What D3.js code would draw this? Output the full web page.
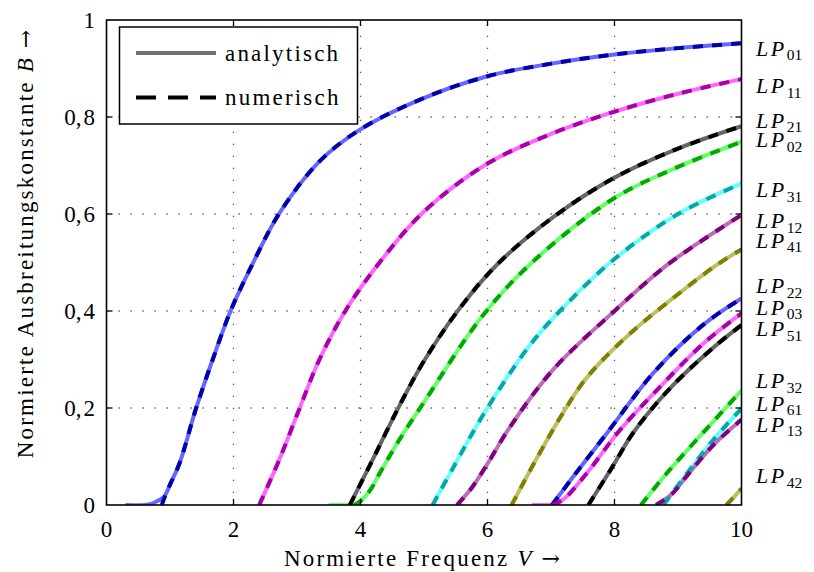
<!DOCTYPE html>
<html>
<head>
<meta charset="utf-8">
<script src="https://cdn.jsdelivr.net/npm/d3@7"></script>
<style>
  body { margin: 0; background: #fff; }
  svg { display: block; font-family: "Liberation Serif", serif; }
  .word { letter-spacing: 2.2px; }
  .arrow { font-family: "DejaVu Serif", serif; letter-spacing: 0; }
</style>
</head>
<body>
<svg width="814" height="572"></svg>
<script>
// mode names, in the order they were plotted (sets the colour cycle)
var modes = ["01", "11", "21", "02", "31", "12", "41", "22", "03", "51", "32", "61", "13", "42"];

// numeric solutions, [V, B]
var lp01 = [[0.87,0],[0.94,0.024],[1.0,0.042],[1.15,0.086],[1.41,0.199],[1.67,0.299],[1.96,0.402],[2.33,0.505],[2.72,0.601],[3.35,0.708],[3.98,0.773],[4.94,0.836],[6.0,0.884],[7.0,0.910],[8.0,0.929],[9.0,0.942],[10,0.952]];
var lp11 = [[2.405,0],[2.72,0.093],[3.04,0.199],[3.35,0.299],[3.77,0.402],[4.33,0.505],[5.0,0.605],[6.0,0.704],[7.0,0.765],[8.0,0.811],[9.0,0.848],[10,0.878]];
var lp21 = [[3.832,0],[4.19,0.093],[4.61,0.204],[5.0,0.297],[5.57,0.407],[6.16,0.497],[7.04,0.594],[8.0,0.675],[9.0,0.735],[10,0.781]];
var lp02 = [[3.9,0],[4.0,0.008],[4.15,0.03],[4.3,0.065],[4.61,0.134],[5.0,0.212],[5.91,0.388],[6.7,0.5],[8.0,0.633],[9.0,0.697],[10,0.749]];
var lp31 = [[5.136,0],[5.46,0.077],[5.96,0.192],[6.67,0.33],[7.14,0.40],[7.98,0.505],[9.0,0.60],[10,0.663]];
var lp12 = [[5.52,0],[5.75,0.035],[6.0,0.085],[6.35,0.16],[7.04,0.28],[8.0,0.40],[8.85,0.497],[10,0.598]];
var lp41 = [[6.38,0],[6.77,0.095],[7.19,0.19],[7.5,0.252],[7.82,0.30],[8.3,0.36],[8.82,0.416],[9.61,0.495],[10,0.527]];
var lp22 = [[7.016,0],[7.40,0.067],[7.88,0.148],[8.61,0.272],[9.40,0.372],[10,0.426]];
var lp03 = [[7.02,0],[7.2,0.012],[7.56,0.065],[8.09,0.155],[8.72,0.244],[9.40,0.333],[10,0.395]];
var lp51 = [[7.588,0],[7.95,0.075],[8.30,0.15],[8.87,0.24],[9.56,0.325],[10,0.371]];
var lp32 = [[8.417,0],[8.82,0.065],[9.29,0.134],[10,0.236]];
var lp61 = [[8.771,0],[9.14,0.065],[9.56,0.135],[10,0.199]];
var lp13 = [[8.654,0],[8.9,0.022],[9.14,0.06],[9.56,0.124],[10,0.176]];
var lp42 = [[9.761,0],[9.85,0.012],[10,0.034]];
var numeric = [lp01, lp11, lp21, lp02, lp31, lp12, lp41, lp22, lp03, lp51, lp32, lp61, lp13, lp42];

// the analytic curves of the LP0m modes reach further down to the left
var lead01 = [[0.3,0],[0.6,0],[0.7,0.002],[0.8,0.008],[0.9,0.016]];
var lead02 = [[3.5,0],[3.86,0]];
var lead03 = [[6.7,0],[6.98,0]];
var leads = {"01": lead01, "02": lead02, "03": lead03};

// where the mode labels sit on the right (B of the text baseline)
var labelB = [0.926, 0.849, 0.778, 0.738, 0.635, 0.571, 0.530, 0.437, 0.392, 0.348, 0.241, 0.194, 0.151, 0.045];

var xTicks = [0, 2, 4, 6, 8, 10];
var yTicks = [0, 0.2, 0.4, 0.6, 0.8, 1];
var yTickLabels = ["0", "0,\u200a2", "0,\u200a4", "0,\u200a6", "0,\u200a8", "1"];

var anaColors = ["#6666ff", "#ff66ff", "#666666", "#66ff66", "#66ffff", "#bb6ebb", "#bebe66"];
var numColors = ["#0000aa", "#aa00aa", "#000000", "#00aa00", "#00aaaa", "#800080", "#808000"];

var svg = d3.select("svg"),
    pL = 106.5, pR = 741.5, pT = 20, pB = 505;

var x = d3.scaleLinear().domain([0, 10]).range([pL, pR]);
var y = d3.scaleLinear().domain([0, 1]).range([pB, pT]);

svg.append("defs").append("clipPath").attr("id", "plot")
    .append("rect").attr("x", pL).attr("y", pT)
    .attr("width", pR - pL).attr("height", pB - pT);

// dotted grid
var grid = svg.append("g").attr("stroke", "#555").attr("stroke-width", 1.3)
    .attr("stroke-dasharray", "1.3,10.7");
grid.selectAll(".vg").data(xTicks.slice(1, -1)).enter().append("line")
    .attr("x1", function(d) { return x(d); }).attr("x2", function(d) { return x(d); })
    .attr("y1", pB).attr("y2", pT);
grid.selectAll(".hg").data(yTicks.slice(1, -1)).enter().append("line")
    .attr("y1", function(d) { return y(d); }).attr("y2", function(d) { return y(d); })
    .attr("x1", pL).attr("x2", pR);

var line = d3.line()
    .x(function(d) { return x(d[0]); })
    .y(function(d) { return y(d[1]); })
    .curve(d3.curveCatmullRom.alpha(0.5));

var curves = svg.append("g").attr("clip-path", "url(#plot)").attr("fill", "none");

// analytic first, numeric dashed on top
modes.forEach(function(m, i) {
    var pts = numeric[i];
    if (leads[m]) {
        var lead = leads[m];
        var last = lead[lead.length - 1][0];
        pts = lead.concat(pts.filter(function(p) { return p[0] > last; }));
    }
    curves.append("path").attr("d", line(pts))
        .attr("stroke", anaColors[i % 7]).attr("stroke-width", 4);
});
modes.forEach(function(m, i) {
    curves.append("path").attr("d", line(numeric[i]))
        .attr("stroke", numColors[i % 7]).attr("stroke-width", 4)
        .attr("stroke-dasharray", "10,9");
});

// frame and inner ticks
svg.append("rect").attr("x", pL).attr("y", pT)
    .attr("width", pR - pL).attr("height", pB - pT)
    .attr("fill", "none").attr("stroke", "#000").attr("stroke-width", 1.6);

var ticks = svg.append("g").attr("stroke", "#000").attr("stroke-width", 1.3);
xTicks.slice(1, -1).forEach(function(t) {
    ticks.append("line").attr("x1", x(t)).attr("x2", x(t)).attr("y1", pB).attr("y2", pB - 6);
    ticks.append("line").attr("x1", x(t)).attr("x2", x(t)).attr("y1", pT).attr("y2", pT + 6);
});
yTicks.slice(1, -1).forEach(function(t) {
    ticks.append("line").attr("y1", y(t)).attr("y2", y(t)).attr("x1", pL).attr("x2", pL + 6);
    ticks.append("line").attr("y1", y(t)).attr("y2", y(t)).attr("x1", pR).attr("x2", pR - 6);
});

// tick labels
svg.append("g").selectAll("text").data(xTicks).enter().append("text")
    .attr("x", function(d) { return x(d); }).attr("y", 537)
    .attr("text-anchor", "middle").attr("font-size", 23)
    .text(function(d) { return d; });
svg.append("g").selectAll("text").data(yTicks).enter().append("text")
    .attr("x", 95).attr("y", function(d) { return y(d) + 7.5; })
    .attr("text-anchor", "end").attr("font-size", 23)
    .text(function(d, i) { return yTickLabels[i]; });

// axis titles
var xl = svg.append("text").attr("class", "word").attr("x", 422).attr("y", 566)
    .attr("text-anchor", "middle").attr("font-size", 23);
xl.append("tspan").text("Normierte Frequenz ");
xl.append("tspan").attr("font-style", "italic").text("V");
xl.append("tspan").text(" ");
xl.append("tspan").attr("class", "arrow").attr("font-size", 22).text("\u2192");

var yl = svg.append("text").attr("class", "word")
    .attr("transform", "translate(33,244) rotate(-90)")
    .attr("text-anchor", "middle").attr("font-size", 23);
yl.append("tspan").text("Normierte Ausbreitungskonstante ");
yl.append("tspan").attr("font-style", "italic").text("B");
yl.append("tspan").text(" ");
yl.append("tspan").attr("class", "arrow").attr("font-size", 22).text("\u2192");

// mode labels
modes.forEach(function(m, i) {
    var t = svg.append("text").attr("x", 756).attr("y", y(labelB[i]))
        .attr("font-size", 22);
    t.append("tspan").attr("font-style", "italic").attr("letter-spacing", "2.5px").text("LP");
    t.append("tspan").attr("font-size", 15.5).attr("dy", 4.5).text(m);
});

// legend
var lg = svg.append("g");
lg.append("rect").attr("x", 119.5).attr("y", 27).attr("width", 238).attr("height", 97)
    .attr("fill", "#fff").attr("stroke", "#000").attr("stroke-width", 1.5);
lg.append("line").attr("x1", 136).attr("x2", 216).attr("y1", 53).attr("y2", 53)
    .attr("stroke", "#737373").attr("stroke-width", 4);
lg.append("line").attr("x1", 136).attr("x2", 216).attr("y1", 97.5).attr("y2", 97.5)
    .attr("stroke", "#000").attr("stroke-width", 4).attr("stroke-dasharray", "20,12");
lg.append("text").attr("class", "word").attr("x", 225).attr("y", 61).attr("font-size", 23).text("analytisch");
lg.append("text").attr("class", "word").attr("x", 225).attr("y", 105).attr("font-size", 23).text("numerisch");
</script>
</body>
</html>
